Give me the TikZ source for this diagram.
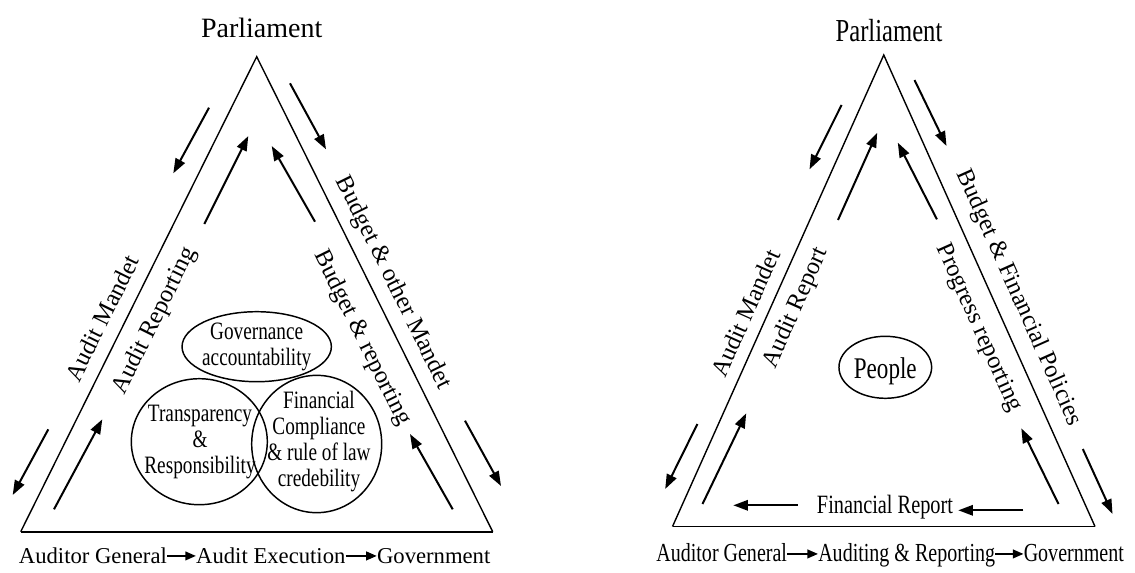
\documentclass[tikz,border=0pt]{standalone}
\usepackage{fontspec}
\setmainfont{Liberation Serif}
\newfontfamily\narrowserif{Liberation Serif}[FakeStretch=0.77]
\usetikzlibrary{arrows.meta,shapes.geometric}

\begin{document}
\begin{tikzpicture}[x=0.75pt,y=-0.75pt,
  edge/.style={line width=1.05pt, line join=miter},
  baseline edge/.style={line width=1.45pt},
  flow/.style={line width=1.5pt, -{Triangle[length=11pt,width=7.8pt]}},
  link/.style={line width=1.5pt, -{Triangle[length=8pt,width=6.5pt]}},
  ring/.style={draw, line width=1.1pt, ellipse, inner sep=0pt},
  lbl/.style={inner sep=0pt, font=\fontsize{18.4pt}{22pt}\selectfont},
  inner/.style={inner sep=0pt, align=center, font=\narrowserif\fontsize{18.75pt}{19.5pt}\selectfont},
  baseL/.style={anchor=base, inner sep=0pt, font=\fontsize{17pt}{20pt}\selectfont},
  baseR/.style={anchor=base, inner sep=0pt, font=\narrowserif\fontsize{19.5pt}{22pt}\selectfont}
]
\useasboundingbox (0,0) rectangle (1135,572);

% ---------- left triangle ----------
\coordinate (LA) at (256.7,56.7);
\coordinate (LL) at (20.7,531.7);
\coordinate (LR) at (492.7,531.7);
\draw[edge] (LL) -- (LA) -- (LR);
\draw[baseline edge] (LL) -- (LR);

\node[anchor=base, inner sep=0pt, font=\fontsize{21pt}{24pt}\selectfont] (parlL) at (261.7,37.5) {Parliament};

\node[lbl, rotate=63.6]  (mandL) at (102,318) {Audit Mandet};
\node[lbl, rotate=63.6]  (repL)  at (155,321) {Audit Reporting};
\node[lbl, rotate=-63.6] (budL)  at (393,283) {Budget \& other Mandet};
\node[lbl, rotate=-63.6] (brepL) at (362,338) {Budget \& reporting};

\foreach \n/\sx/\sy/\tx/\ty in {
  1/209/107.7/173.3/173.3, 2/204.3/224/248.3/136,
  3/315/221.7/271.7/146,   4/290/83.3/326/149.3,
  5/48.3/429.3/12.7/495,   6/54/509.3/102.3/419.3,
  7/452.7/509.3/410/434,   8/465/420.7/501/486}{
  \coordinate (ls\n) at (\sx,\sy);
  \coordinate (lt\n) at (\tx,\ty);
  \draw[flow] (ls\n) -- (lt\n);
}

\node[ring, minimum width=112pt, minimum height=52.5pt] (gov) at (256.7,346.7) {};
\node[ring, minimum width=102pt, minimum height=94.5pt] (trans) at (199.3,441.7) {};
\node[ring, minimum width=97.5pt, minimum height=103pt] (fin) at (316.7,444) {};
\node[inner] (govt) at (gov) {Governance\\accountability};
\node[inner] (transt) at (200,441.7) {Transparency\\\&\\Responsibility};
\node[inner] (fint) at (319,442) {Financial\\Compliance\\\& rule of law\\credebility};

\node[baseL] (agL)  at (92.9,563)  {Auditor General};
\node[baseL] (aeL)  at (270.8,563) {Audit Execution};
\node[baseL] (govL) at (433.7,563) {Government};
\draw[link] ([yshift=5.3pt]agL.base east) -- ([yshift=5.3pt]aeL.base west);
\draw[link] ([yshift=5.3pt]aeL.base east) -- ([yshift=5.3pt]govL.base west);

% ---------- right triangle ----------
\coordinate (RA) at (883.75,55);
\coordinate (RL) at (672.5,526.5);
\coordinate (RR) at (1095,526.5);
\draw[edge] (RL) -- (RA) -- (RR);
\draw[baseline edge] (RL) -- (RR);

\node[anchor=base, inner sep=0pt, font=\narrowserif\fontsize{24pt}{28pt}\selectfont] (parlR) at (889,41.7) {Parliament};

\node[lbl, rotate=65.9]  (mandR) at (745.5,313) {Audit Mandet};
\node[lbl, rotate=65.9]  (repR)  at (796,308)   {Audit Report};
\node[lbl, rotate=-65.9] (budR)  at (1018.6,298) {Budget \& Financial Policies};
\node[lbl, rotate=-65.9] (progR) at (978.5,328) {Progress reporting};

\foreach \n/\sx/\sy/\tx/\ty in {
  1/841.6/105/809.5/169.3,   2/838/220/877.2/132.7,
  3/936.9/219.3/897.8/142.7, 4/914.5/80/946.5/146,
  5/697.4/424/665.2/489,     6/702.5/504/746.2/413.3,
  7/1058.5/504/1021.3/428.3, 8/1082.8/449/1112.5/514,
  9/797.7/505.3/733.3/505.3, 10/1023.3/510.3/958.3/510.3}{
  \coordinate (rs\n) at (\sx,\sy);
  \coordinate (rt\n) at (\tx,\ty);
  \draw[flow] (rs\n) -- (rt\n);
}

\node[ring, minimum width=69.5pt, minimum height=46.5pt] (people) at (885.3,367.3) {};
\node[inner, font=\narrowserif\fontsize{22.5pt}{26pt}\selectfont] (peoplet) at (885.3,371.7) {People};
\node[inner, anchor=base, font=\narrowserif\fontsize{19.8pt}{22pt}\selectfont] (fr) at (885,513) {Financial Report};

\node[baseR] (agR)  at (721.7,561) {Auditor General};
\node[baseR] (arR)  at (906.7,561) {Auditing \& Reporting};
\node[baseR] (govR) at (1073.8,561) {Government};
\draw[link] ([yshift=5.3pt]agR.base east) -- ([yshift=5.3pt]arR.base west);
\draw[link] ([yshift=5.3pt]arR.base east) -- ([yshift=5.3pt]govR.base west);
\end{tikzpicture}
\end{document}
